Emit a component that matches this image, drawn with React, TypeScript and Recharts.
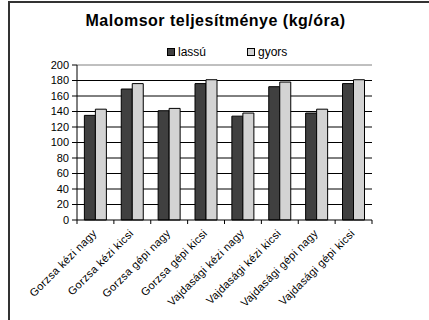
import React from "react";
import {
  BarChart,
  Bar,
  XAxis,
  YAxis,
  CartesianGrid,
  ReferenceLine,
} from "recharts";

const categories = [
  "Gorzsa  kézi nagy",
  "Gorzsa kézi kicsi",
  "Gorzsa gépi nagy",
  "Gorzsa gépi kicsi",
  "Vajdasági kézi nagy",
  "Vajdasági kézi kicsi",
  "Vajdasági gépi nagy",
  "Vajdasági gépi kicsi",
];
const lassu = [135, 169, 141, 176, 134, 172, 138, 176];
const gyors = [143, 176, 144, 181, 138, 178, 143, 181];
const yTicks = [0, 20, 40, 60, 80, 100, 120, 140, 160, 180, 200];

const data = categories.map((name, i) => ({
  name,
  lassu: lassu[i],
  gyors: gyors[i],
}));

const FONT = "Arial, 'Liberation Sans', sans-serif";
const DARK = "#404040";
const LIGHT = "#d3d3d3";

// elforgatott kategória felirat + osztásjelek a kategóriák között
const CategoryTick = (props: any) => {
  const { x, y, payload, index } = props;
  const half = payload?.offset || 295 / 8 / 2;
  const last = index === categories.length - 1;
  const ax = x + 2;
  const ay = y + 14;
  return (
    <g>
      <line x1={x - half} y1={y} x2={x - half} y2={y + 4} stroke="#000" />
      {last && <line x1={x + half} y1={y} x2={x + half} y2={y + 4} stroke="#000" />}
      <text
        x={ax}
        y={ay}
        textAnchor="end"
        transform={`rotate(-45, ${ax}, ${ay})`}
        fontSize={11}
        letterSpacing={0.3}
        fontFamily={FONT}
        fill="#000"
      >
        {payload.value}
      </text>
    </g>
  );
};

const Swatch = ({ color }: { color: string }) => (
  <span
    style={{
      display: "inline-block",
      width: 6,
      height: 6,
      background: color,
      border: "1px solid #000",
      marginRight: 3,
    }}
  />
);

const App: React.FC = () => (
  <div
    style={{
      position: "absolute",
      left: 0,
      top: 0,
      width: 429,
      height: 320,
      background: "#fff",
      fontFamily: FONT,
    }}
  >
    {/* keret */}
    <div
      style={{
        position: "absolute",
        left: 8,
        top: 1,
        width: 421,
        height: 319,
        borderTop: "2px solid #333",
        borderLeft: "2px solid #333",
      }}
    />

    {/* cím */}
    <div
      style={{
        position: "absolute",
        left: 0,
        top: 12,
        width: 431,
        textAlign: "center",
        fontSize: 16,
        letterSpacing: 0.5,
        fontWeight: "bold",
        color: "#000",
      }}
    >
      Malomsor teljesítménye (kg/óra)
    </div>

    {/* jelmagyarázat */}
    <div
      style={{
        position: "absolute",
        left: 167,
        top: 45,
        fontSize: 12,
        display: "flex",
        alignItems: "center",
        color: "#000",
      }}
    >
      <Swatch color={DARK} />
      <span style={{ width: 69 }}>lassú</span>
      <Swatch color={LIGHT} />
      <span>gyors</span>
    </div>

    <div style={{ position: "absolute", left: 0, top: 0 }}>
      <BarChart
        width={429}
        height={320}
        data={data}
        margin={{ top: 65, right: 57, left: 8, bottom: 0 }}
        barCategoryGap="20%"
        barGap={0}
      >
        <CartesianGrid
          vertical={false}
          stroke="#000"
          horizontalValues={[20, 40, 60, 80, 100, 120, 140, 160, 180]}
        />
        <ReferenceLine y={200} stroke="#808080" />

        <XAxis
          dataKey="name"
          interval={0}
          height={100}
          tickLine={false}
          tickSize={0}
          tickMargin={0}
          axisLine={{ stroke: "#000" }}
          tick={<CategoryTick />}
        />

        <YAxis
          domain={[0, 200]}
          ticks={yTicks}
          interval={0}
          width={69}
          tickSize={5}
          tickLine={{ stroke: "#000" }}
          axisLine={{ stroke: "#000" }}
          tick={{ fontSize: 11, fontFamily: FONT, fill: "#000" }}
          tickMargin={3}
        />
        <YAxis
          yAxisId="r"
          orientation="right"
          domain={[0, 200]}
          width={0}
          tick={false}
          tickLine={false}
          axisLine={{ stroke: "#808080" }}
        />

        <Bar
          dataKey="lassu"
          fill={DARK}
          stroke="#000"
          strokeWidth={1}
          isAnimationActive={false}
        />
        <Bar
          dataKey="gyors"
          fill={LIGHT}
          stroke="#000"
          strokeWidth={1}
          isAnimationActive={false}
        />
      </BarChart>
    </div>
  </div>
);

export default App;
